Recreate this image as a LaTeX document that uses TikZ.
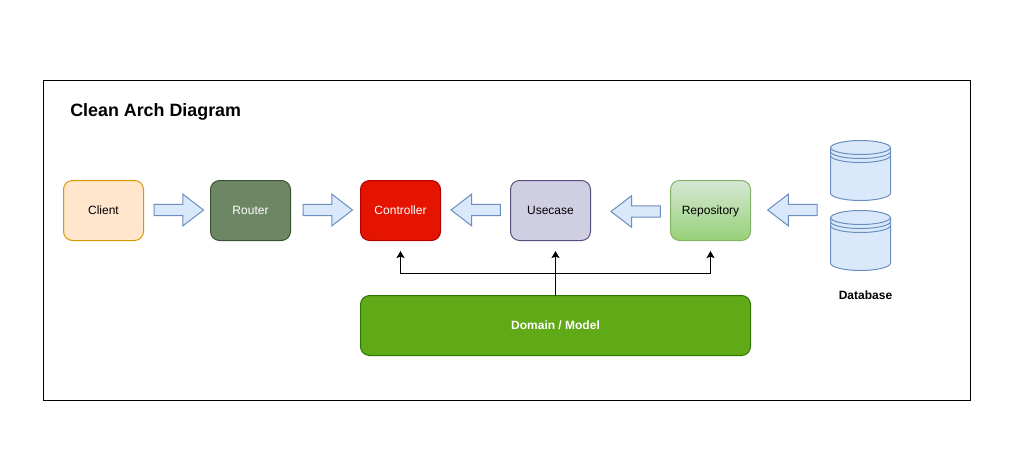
\documentclass[tikz,border=0pt]{standalone}
\usepackage{fontspec}
\setmainfont{Liberation Sans}
\usetikzlibrary{shapes.arrows,arrows.meta,calc}
\definecolor{clientF}{HTML}{FFE6CC}\definecolor{clientS}{HTML}{D79B00}
\definecolor{routerF}{HTML}{6D8764}\definecolor{routerS}{HTML}{3A5431}
\definecolor{ctrlF}{HTML}{E51400}\definecolor{ctrlS}{HTML}{B20000}
\definecolor{useF}{HTML}{D0CEE2}\definecolor{useS}{HTML}{56517E}
\definecolor{repoT}{HTML}{D5E8D4}\definecolor{repoB}{HTML}{97D077}\definecolor{repoS}{HTML}{82B366}
\definecolor{domF}{HTML}{60A917}\definecolor{domS}{HTML}{2D7600}
\definecolor{blueF}{HTML}{DAE8FC}\definecolor{blueS}{HTML}{6C8EBF}
\tikzset{
  x=0.75pt,y=-0.75pt,
  every node/.style={font=\fontsize{9pt}{11pt}\selectfont},
  base line/.style={line width=0.75pt},
  box/.style={base line,draw,rectangle,rounded corners=6.75pt,minimum width=60pt,minimum height=45pt,
    inner sep=0pt,outer sep=0pt,text height=7pt,text depth=1pt},
  blockarrow/.style={base line,draw=blueS,fill=blueF,single arrow,single arrow head extend=7.6pt,
    single arrow tip angle=75,single arrow head indent=0pt,minimum height=37pt,
    inner xsep=0pt,inner ysep=3.9pt,outer sep=0pt},
  leftarrow/.style={blockarrow,shape border rotate=180},
  link/.style={base line,draw=black,-{Stealth[length=5.25pt,width=6pt,inset=1pt]},shorten >=7.9pt},
  cyl/.style={base line,draw=blueS,fill=blueF},
  cylline/.style={base line,draw=blueS},
}
\newcommand{\drawcyl}[2]{% x-left, y-top
  \path[cyl] (#1,#2+7.5) arc[start angle=180,end angle=0,x radius=30,y radius=-7.5]
     -- (#1+60,#2+52.5) arc[start angle=0,end angle=-180,x radius=30,y radius=-7.5] -- cycle;
  \path[cylline] (#1,#2+7) arc[start angle=180,end angle=360,x radius=30,y radius=-7];
  \path[cylline] (#1,#2+11) arc[start angle=180,end angle=360,x radius=30,y radius=-7];
  \path[cylline] (#1,#2+15) arc[start angle=180,end angle=360,x radius=30,y radius=-7];
}
\begin{document}
\begin{tikzpicture}
\useasboundingbox (0,0) rectangle (1021,461);
\fill[white] (0,0) rectangle (1021,461);
\draw[base line,draw=black] (43.5,80.5) rectangle (970.5,400.5);
\node[anchor=base west,inner sep=0pt,font=\bfseries\fontsize{13.4pt}{16pt}\selectfont] (title) at (70,116) {Clean Arch Diagram};

\node[box,draw=clientS,fill=clientF] (client) at (103.5,210.5) {Client};
\node[box,draw=routerS,fill=routerF,text=white] (router) at (250.5,210.5) {Router};
\node[box,draw=ctrlS,fill=ctrlF,text=white] (controller) at (400.5,210.5) {Controller};
\node[box,draw=useS,fill=useF] (usecase) at (550.5,210.5) {Usecase};
\node[box,draw=repoS,top color=repoT,bottom color=repoB] (repository) at (710.5,210.5) {Repository};
\node[box,draw=domS,fill=domF,text=white,minimum width=292.5pt,font=\bfseries\fontsize{9pt}{11pt}\selectfont] (domain) at (555.5,325.5) {Domain / Model};

\node[blockarrow,anchor=tip] (a1) at (203.5,210) {};
\node[blockarrow,anchor=tip] (a2) at (352.5,210) {};
\node[leftarrow,anchor=tip] (a3) at (451,210) {};
\node[leftarrow,anchor=tip] (a4) at (611,211.5) {};
\node[leftarrow,anchor=tip] (a5) at (767.7,210) {};

\drawcyl{830.5}{140.5}
\drawcyl{830.5}{210.5}
\node[inner sep=0pt,text height=7pt,text depth=1pt,font=\bfseries\fontsize{9pt}{11pt}\selectfont] (dblabel) at (865.5,295.5) {Database};

\coordinate (bus) at (555.5,273.5);
\coordinate (usetip) at (555.5,240.5);
\draw[link] (domain.north) -- (usetip);
\draw[link] (bus) -| (controller.south);
\draw[link] (bus) -| (repository.south);
\end{tikzpicture}
\end{document}
